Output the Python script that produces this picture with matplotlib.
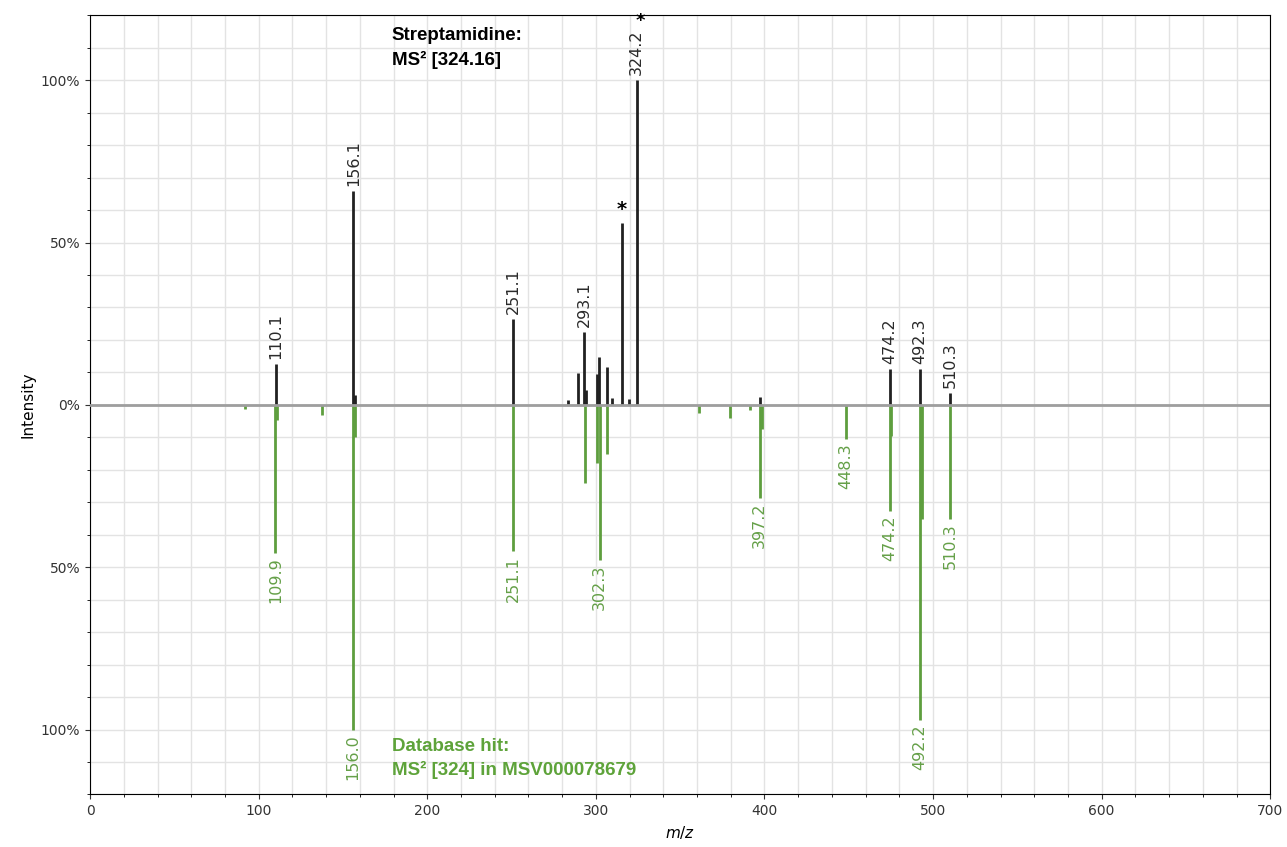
import matplotlib.pyplot as plt
from matplotlib.ticker import MultipleLocator, FuncFormatter

# query spectrum (top)
top_mz = [110.1, 156.1, 157.1, 251.1, 283.6, 289.6, 293.1, 294.2, 300.6, 302.1,
          306.3, 309.3, 315.2, 319.8, 324.2, 397.2, 474.2, 492.3, 510.3]
top_int = [0.126, 0.658, 0.03, 0.265, 0.016, 0.098, 0.225, 0.045, 0.095, 0.148,
           0.117, 0.02, 0.561, 0.018, 1.0, 0.025, 0.11, 0.11, 0.037]
top_labels = {110.1: "110.1", 156.1: "156.1", 251.1: "251.1", 293.1: "293.1",
              324.2: "324.2", 474.2: "474.2", 492.3: "492.3", 510.3: "510.3"}

# database hit (bottom)
bot_mz = [92.0, 109.9, 110.8, 137.6, 156.0, 157.0, 251.1, 293.3, 300.8, 302.3,
          306.3, 361.3, 379.3, 391.3, 397.2, 398.4, 448.3, 474.2, 474.8, 492.2,
          493.2, 510.3]
bot_int = [0.012, 0.455, 0.046, 0.03, 1.0, 0.098, 0.45, 0.24, 0.18, 0.477,
           0.15, 0.025, 0.039, 0.015, 0.286, 0.074, 0.105, 0.326, 0.097, 0.97,
           0.35, 0.35]
bot_labels = {109.9: "109.9", 156.0: "156.0", 251.1: "251.1", 302.3: "302.3",
              397.2: "397.2", 448.3: "448.3", 474.2: "474.2", 492.2: "492.2",
              510.3: "510.3"}

black = "#212121"
green = "#5e9e3e"

fig, ax = plt.subplots(figsize=(12.87, 8.47), dpi=100)
fig.subplots_adjust(left=0.07, right=0.987, top=0.982, bottom=0.062)

ax.vlines(top_mz, 0, top_int, color=black, lw=2, zorder=3)
ax.vlines(bot_mz, 0, [-v for v in bot_int], color=green, lw=2, zorder=3)
ax.axhline(0, color="#9e9e9e", lw=2, zorder=4)

for mz, lab in top_labels.items():
    y = top_int[top_mz.index(mz)]
    ax.text(mz, y + 0.015, lab, rotation=90, ha="center", va="bottom",
            fontsize=11.5, color="#2a2a2a", zorder=5)
for mz, lab in bot_labels.items():
    y = bot_int[bot_mz.index(mz)]
    ax.text(mz, -y - 0.015, lab, rotation=90, ha="center", va="top",
            fontsize=11.5, color="#65a048", zorder=5)

# asterisks
ax.text(315.2, 0.561 + 0.01, "*", ha="center", va="bottom", fontsize=14,
        fontweight="bold", color="black")
ax.text(326.5, 1.183, "*", ha="center", va="center", fontsize=13,
        fontweight="bold", color="black")

ax.text(179, 1.165, "Streptamidine:\nMS² [324.16]", ha="left", va="top",
        fontsize=13.5, fontweight="bold", family="Liberation Sans",
        color="black", linespacing=1.55)
ax.text(179, -1.025, "Database hit:\nMS² [324] in MSV000078679", ha="left",
        va="top", fontsize=13.5, fontweight="bold", family="Liberation Sans",
        color="#5ea33a", linespacing=1.45)

ax.set_xlim(0, 700)
ax.set_ylim(-1.2, 1.2)
ax.xaxis.set_major_locator(MultipleLocator(100))
ax.xaxis.set_minor_locator(MultipleLocator(20))
ax.yaxis.set_major_locator(MultipleLocator(0.5))
ax.yaxis.set_minor_locator(MultipleLocator(0.1))
ax.yaxis.set_major_formatter(FuncFormatter(lambda v, p: f"{abs(v):.0%}"))
ax.tick_params(labelsize=10, colors="#333333")
ax.grid(True, which="both", color="#e3e3e3", lw=1, zorder=0)
ax.set_axisbelow(True)
ax.set_xlabel("$m/z$", fontsize=11)
ax.set_ylabel("Intensity", fontsize=11)

plt.savefig("out.png")
